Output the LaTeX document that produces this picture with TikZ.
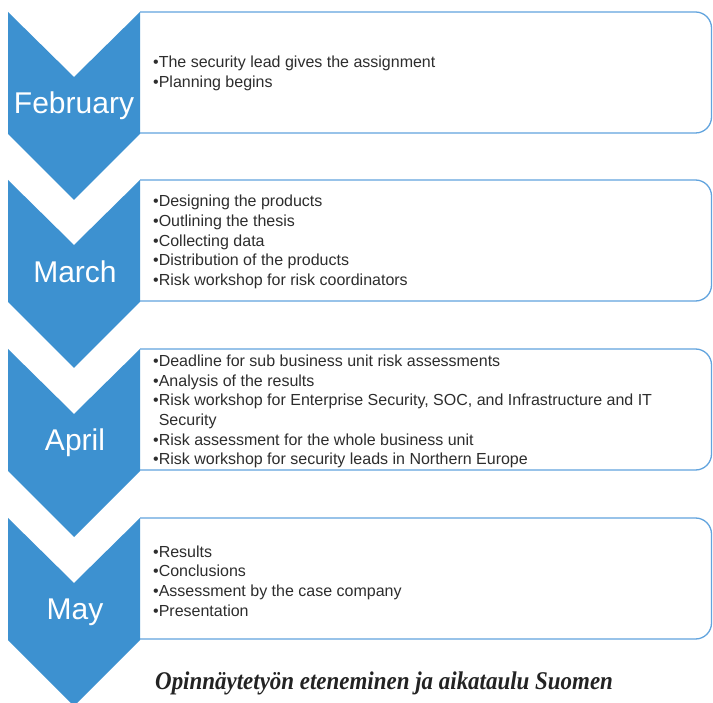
\documentclass[tikz,border=0pt]{standalone}
\usepackage{fontspec}
\setmainfont{Liberation Sans}
\newfontfamily\capfont[FakeStretch=0.9]{Liberation Serif}
\definecolor{chev}{RGB}{61,145,208}
\definecolor{boxline}{RGB}{98,164,222}
\definecolor{txt}{RGB}{45,45,45}
\definecolor{captxt}{RGB}{35,35,35}
\begin{document}
\begin{tikzpicture}[x=1pt,y=-1pt,
  panel/.style={fill=white,draw=boxline,line width=1.3pt,rounded corners=16pt},
  chevshape/.style={fill=chev,draw=none},
  month/.style={text=white,font=\fontsize{30}{32}\selectfont,inner sep=0pt},
  items/.style={text=txt,font=\fontsize{16}{19.7}\selectfont,align=left,anchor=west,inner sep=0pt},
  caption/.style={text=captxt,font=\capfont\bfseries\itshape\fontsize{25.5}{28}\selectfont,anchor=base west,inner sep=0pt}]
\useasboundingbox (0,0) rectangle (713,703);
\fill[white] (0,0) rectangle (713,703);
\begin{scope}
\clip (0,0) rectangle (713,703);
\foreach \t/\n in {12/feb,180/mar,349/apr,518/may}{
  \filldraw[panel] (140,\t) -- (711.5,\t) -- (711.5,\t+121) -- (140,\t+121);
  \fill[chevshape] (8,\t) -- (74,\t+65) -- (140,\t) -- (140,\t+122) -- (74,\t+188) -- (8,\t+122) -- cycle;
}
\end{scope}
\node[month] (mfeb) at (74,106) {February};
\node[month] (mmar) at (75,272) {March};
\node[month] (mapr) at (75,443) {April};
\node[month] (mmay) at (75,612) {May};
\node[items] (tfeb) at (153,73.5) {\textbullet The security lead gives the assignment\\\textbullet Planning begins};
\node[items] (tmar) at (153,242) {\textbullet Designing the products\\\textbullet Outlining the thesis\\\textbullet Collecting data\\\textbullet Distribution of the products\\\textbullet Risk workshop for risk coordinators};
\node[items] (tapr) at (153,411.5) {\textbullet Deadline for sub business unit risk assessments\\\textbullet Analysis of the results\\\textbullet Risk workshop for Enterprise Security, SOC, and Infrastructure and IT\\\phantom{\textbullet}Security\\\textbullet Risk assessment for the whole business unit\\\textbullet Risk workshop for security leads in Northern Europe};
\node[items] (tmay) at (153,581) {\textbullet Results\\\textbullet Conclusions\\\textbullet Assessment by the case company\\\textbullet Presentation};
\node[caption] (cap) at (155,689) {Opinnäytetyön eteneminen ja aikataulu Suomen};
\end{tikzpicture}
\end{document}
